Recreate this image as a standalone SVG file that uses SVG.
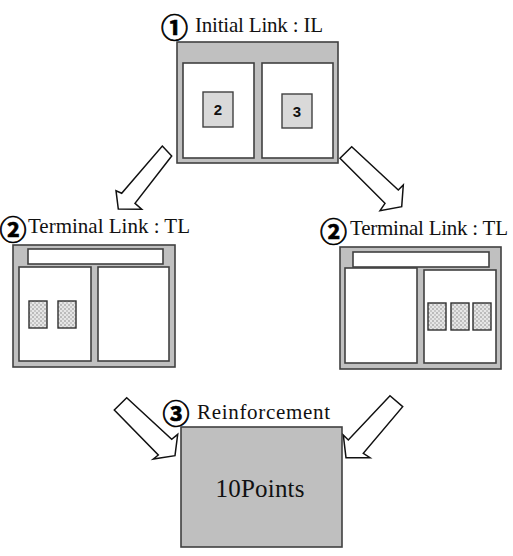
<svg xmlns="http://www.w3.org/2000/svg" width="513" height="556" viewBox="0 0 513 556">
<defs>
<pattern id="dots" width="4" height="4" patternUnits="userSpaceOnUse">
<rect width="4" height="4" fill="#e6e6e6"/>
<circle cx="1" cy="1" r="0.7" fill="#707070"/>
<circle cx="3" cy="3" r="0.7" fill="#909090"/>
</pattern>
</defs>
<style>
.frame{fill:#c0c0c0;stroke:#404040;stroke-width:1.6}
.panel{fill:#ffffff;stroke:#404040;stroke-width:1.6}
.num{fill:#d9d9d9;stroke:#404040;stroke-width:1.4}
.dot{fill:url(#dots);stroke:#303030;stroke-width:1.4}
.lbl{font-family:"Liberation Serif","Times New Roman",serif;font-size:21px;fill:#111}
.circ{font-family:"Noto Sans CJK JP","DejaVu Sans",sans-serif;font-size:27px;font-weight:bold;fill:#000;stroke:#000;stroke-width:0.7;text-anchor:middle}
.n{font-family:"Liberation Sans",Arial,sans-serif;font-size:15px;font-weight:bold;fill:#111;text-anchor:middle}
.arrow{fill:#ffffff;stroke:#111;stroke-width:1.5;stroke-linejoin:miter}
</style>
<rect width="513" height="556" fill="#ffffff"/>

<g id="initial-link">
<text class="circ" x="174.5" y="37.5">①</text>
<text class="lbl" x="195" y="32" textLength="128">Initial Link : IL</text>
<rect class="frame" x="177" y="42" width="161" height="121"/>
<rect class="panel" x="183" y="63" width="71" height="95"/>
<rect class="panel" x="262" y="63" width="71" height="95"/>
<rect class="num" x="203" y="92" width="30" height="35"/>
<text class="n" x="218" y="115">2</text>
<rect class="num" x="282" y="94" width="30" height="34"/>
<text class="n" x="297" y="116.5">3</text>
</g>

<g id="terminal-link-left">
<text class="circ" x="13" y="240">②</text>
<text class="lbl" x="28" y="233" textLength="162">Terminal Link : TL</text>
<rect class="frame" x="13" y="245" width="162" height="122"/>
<rect class="panel" x="28" y="249" width="135" height="15"/>
<rect class="panel" x="19" y="267" width="72" height="94"/>
<rect class="panel" x="98" y="267" width="71" height="94"/>
<rect class="dot" x="29" y="301" width="18" height="27"/>
<rect class="dot" x="58" y="301" width="18" height="27"/>
</g>

<g id="terminal-link-right">
<text class="circ" x="333.5" y="241.5">②</text>
<text class="lbl" x="350" y="235" textLength="158">Terminal Link : TL</text>
<rect class="frame" x="340" y="247" width="161" height="122"/>
<rect class="panel" x="353" y="252" width="136" height="15"/>
<rect class="panel" x="345" y="268" width="72" height="95"/>
<rect class="panel" x="424" y="270" width="72" height="93"/>
<rect class="dot" x="428" y="303" width="18" height="27"/>
<rect class="dot" x="451" y="303" width="18" height="27"/>
<rect class="dot" x="473" y="303" width="18" height="27"/>
</g>

<g id="reinforcement">
<text class="circ" x="176" y="424">③</text>
<text class="lbl" x="197" y="419" textLength="133">Reinforcement</text>
<rect x="181" y="427" width="161" height="120" fill="#bfbfbf" stroke="#404040" stroke-width="1.6"/>
<text x="260" y="497" font-family="'Liberation Serif','Times New Roman',serif" font-size="25" fill="#111" text-anchor="middle" textLength="89">10Points</text>
</g>

<g id="connectors">
<polygon class="arrow" points="162.3,146 171.7,156 135,203.3 141.7,209.3 118.3,209 116,190.7 121.7,193.3"/>
<polygon class="arrow" points="351.7,146.7 340,158.3 385,203.3 380,210.7 401.7,206.7 403.3,185 398.3,190"/>
<polygon class="arrow" points="126.7,397.7 114.3,410 158.3,455 153.3,459 175,455.7 177.7,434.3 171.7,439.3"/>
<polygon class="arrow" points="390,395.7 402.7,406.7 363.3,453.3 370,457.7 346,457.7 343.3,435 348.3,440"/>
</g>
</svg>
